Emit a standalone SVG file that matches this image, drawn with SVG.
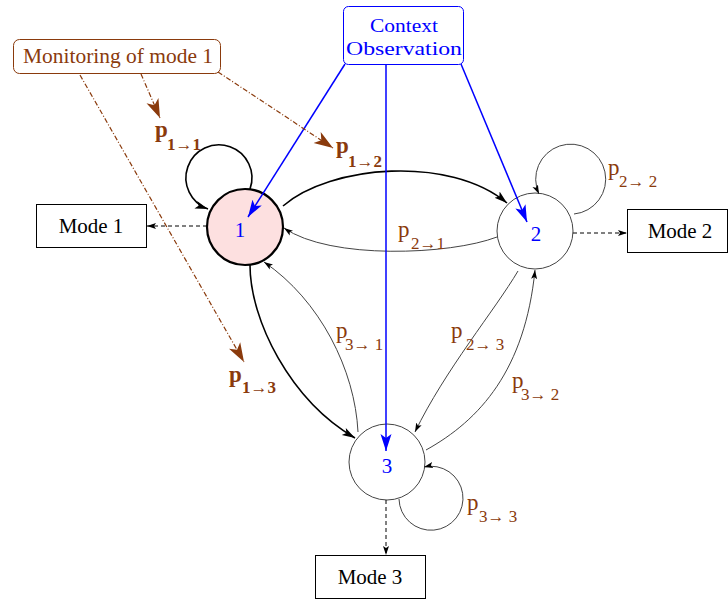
<svg xmlns="http://www.w3.org/2000/svg" width="728" height="599" viewBox="0 0 728 599">
<defs>
<marker id="ak" markerUnits="userSpaceOnUse" markerWidth="14" markerHeight="10" refX="13" refY="5" orient="auto">
<path d="M0,1 L13,5 L0,9 L3,5 z" fill="#000"/>
</marker>
<marker id="aks" markerUnits="userSpaceOnUse" markerWidth="10" markerHeight="8" refX="9" refY="4" orient="auto">
<path d="M0,1 L9,4 L0,7 L2,4 z" fill="#000"/>
</marker>
<marker id="ab" markerUnits="userSpaceOnUse" markerWidth="18" markerHeight="12" refX="17" refY="6" orient="auto">
<path d="M0,0.5 L17,6 L0,11.5 L4,6 z" fill="#0000ff"/>
</marker>
<marker id="ar" markerUnits="userSpaceOnUse" markerWidth="20" markerHeight="14" refX="19" refY="7" orient="auto">
<path d="M0,0.5 L19,7 L0,13.5 L5,7 z" fill="#8a3a0c"/>
</marker>
</defs>
<style>
text{font-family:"Liberation Serif","Times New Roman",serif}
.box{fill:#fff;stroke:#000;stroke-width:1}
.lbl{font-size:21px;fill:#000}
.br{fill:#8a3a0c}
.p{font-size:23px}
.s{font-size:17px}
.b{font-weight:bold}
.nl{font-size:21px;fill:#0000ff;text-anchor:middle}
.thk{fill:none;stroke:#000;stroke-width:1.6}
.thn{fill:none;stroke:#444;stroke-width:1}
.blue{fill:none;stroke:#0000ff;stroke-width:1.5}
.dash{fill:none;stroke:#000;stroke-width:1;stroke-dasharray:4,3}
.dd{fill:none;stroke:#8a3a0c;stroke-width:1.2;stroke-dasharray:5,2,1,2}
</style>
<rect width="728" height="599" fill="#fff"/>

<g id="ctx">
<rect x="343.5" y="6.5" width="120" height="58" rx="5" fill="#fff" stroke="#0000ff" stroke-width="1"/>
<text x="404" y="32" font-size="19" fill="#0000ff" text-anchor="middle" textLength="68" lengthAdjust="spacingAndGlyphs">Context</text>
<text x="404" y="55" font-size="19" fill="#0000ff" text-anchor="middle" textLength="116" lengthAdjust="spacingAndGlyphs">Observation</text>
</g>

<g id="monitor">
<rect x="13.5" y="39.5" width="207" height="34" rx="6" fill="#fff" stroke="#8a3a0c" stroke-width="1"/>
<text x="118" y="63" font-size="20" class="br" text-anchor="middle" textLength="190" lengthAdjust="spacingAndGlyphs">Monitoring of mode 1</text>
</g>

<g id="node1">
<circle cx="245" cy="227" r="38" fill="#fde0e0" stroke="#000" stroke-width="2.2"/>
<text x="240" y="237" class="nl">1</text>
</g>
<g id="node2">
<circle cx="535" cy="231" r="38" fill="#fff" stroke="#444" stroke-width="1"/>
<text x="536" y="241" class="nl">2</text>
</g>
<g id="node3">
<circle cx="387" cy="462" r="38" fill="#fff" stroke="#444" stroke-width="1"/>
<text x="387" y="473" class="nl">3</text>
</g>

<g id="mode1">
<rect class="box" x="36.5" y="204.5" width="110" height="43"/>
<text x="91" y="233" class="lbl" text-anchor="middle">Mode 1</text>
</g>
<g id="mode2">
<rect class="box" x="627.5" y="209.5" width="100" height="43"/>
<text x="680" y="238" class="lbl" text-anchor="middle">Mode 2</text>
</g>
<g id="mode3">
<rect class="box" x="315.5" y="555.5" width="110" height="43"/>
<text x="370" y="584" class="lbl" text-anchor="middle">Mode 3</text>
</g>

<g id="connectors">
<path class="thk" d="M250,189 A33,33 0 1 0 208,209" marker-end="url(#ak)"/>
<path class="thn" d="M574,214 A35,35 0 1 0 539,194" marker-end="url(#aks)"/>
<path class="thn" d="M399,499 A32,32 0 1 0 424,467" marker-end="url(#aks)"/>
<path class="thk" d="M283,206 C330,165 450,155 507,203" marker-end="url(#ak)"/>
<path class="thn" d="M497,237 C450,255 330,260 284,228" marker-end="url(#aks)"/>
<path class="thk" d="M250,265 C250,320 290,400 355,438" marker-end="url(#ak)"/>
<path class="thn" d="M358,432 C355,370 320,300 264,262" marker-end="url(#aks)"/>
<path class="thn" d="M518,271 C495,310 445,370 415,432" marker-end="url(#aks)"/>
<path class="thn" d="M426,450 C480,420 525,370 535,270" marker-end="url(#aks)"/>
<path class="dash" d="M207,226 L147,226" marker-end="url(#aks)"/>
<path class="dash" d="M573,233 L627,233" marker-end="url(#aks)"/>
<path class="dash" d="M386,500 L386,555" marker-end="url(#aks)"/>
<path class="blue" d="M345,64 L248,217" marker-end="url(#ab)"/>
<path class="blue" d="M386,65 L386,451" marker-end="url(#ab)"/>
<path class="blue" d="M461,64 L527,222" marker-end="url(#ab)"/>
<path class="dd" d="M141,74 L160,118" marker-end="url(#ar)"/>
<path class="dd" d="M218,72 L333,148" marker-end="url(#ar)"/>
<path class="dd" d="M80,75 L244,362" marker-end="url(#ar)"/>
</g>

<g id="labels">
<text x="155" y="137" class="br p b">p</text><text x="167" y="150" class="br s b">1→1</text>
<text x="336" y="153" class="br p b">p</text><text x="348" y="167" class="br s b">1→2</text>
<text x="229" y="382" class="br p b">p</text><text x="242" y="393" class="br s b">1→3</text>
<text x="398" y="237" class="br p">p</text><text x="411" y="249" class="br s">2→1</text>
<text x="336" y="338" class="br p">p</text><text x="345" y="350" class="br s">3→ 1</text>
<text x="451" y="338" class="br p">p</text><text x="466" y="350" class="br s">2→ 3</text>
<text x="512" y="388" class="br p">p</text><text x="521" y="400" class="br s">3→ 2</text>
<text x="467" y="510" class="br p">p</text><text x="479" y="522" class="br s">3→ 3</text>
<text x="608" y="175" class="br p">p</text><text x="619" y="187" class="br s">2→ 2</text>
</g>
</svg>
